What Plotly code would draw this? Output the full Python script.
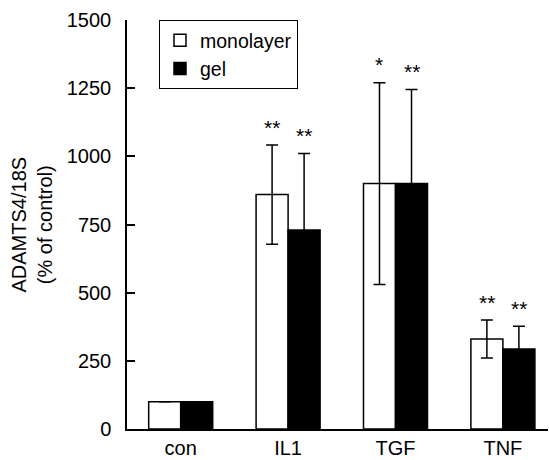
import plotly.graph_objects as go

categories = ["con", "IL1", "TGF", "TNF"]
monolayer = [100, 860, 900, 330]
monolayer_err = [0, 182, 370, 70]
gel = [100, 730, 900, 293]
gel_err = [0, 280, 345, 84]
mono_stars = ["", "**", "*", "**"]
gel_stars = ["", "**", "**", "**"]
y_ticks = [0, 250, 500, 750, 1000, 1250, 1500]

FONT = "Liberation Sans, Arial, Helvetica, sans-serif"

fig = go.Figure()
fig.add_trace(go.Bar(
    name="monolayer", x=categories, y=monolayer,
    marker=dict(color="white", line=dict(color="black", width=1.5)),
    error_y=dict(type="data", array=monolayer_err, color="black", thickness=1.5, width=6),
))
fig.add_trace(go.Bar(
    name="gel", x=categories, y=gel,
    marker=dict(color="black", line=dict(color="black", width=1.5)),
    error_y=dict(type="data", array=gel_err, color="black", thickness=1.5, width=6),
))

annotations = []
for i, c in enumerate(categories):
    for stars, vals, errs, off in ((mono_stars, monolayer, monolayer_err, -0.15),
                                   (gel_stars, gel, gel_err, 0.15)):
        if stars[i]:
            annotations.append(dict(
                x=i + off, y=vals[i] + errs[i] + 65, xref="x", yref="y",
                text=stars[i], showarrow=False, yanchor="middle",
                font=dict(size=21, color="black", family=FONT),
            ))

annotations.append(dict(
    x=-0.228, y=0.5, xref="paper", yref="paper",
    text="ADAMTS4/18S<br>(% of control)", textangle=-90, showarrow=False,
    font=dict(size=20, color="black", family=FONT),
    xanchor="center", yanchor="middle",
))

fig.update_layout(
    width=549, height=460,
    margin=dict(l=127, r=1, t=20, b=26),
    paper_bgcolor="white", plot_bgcolor="white",
    barmode="group", bargap=0.404, bargroupgap=0,
    font=dict(family=FONT, size=20, color="black"),
    showlegend=True,
    legend=dict(
        x=0.076, y=1.0, xanchor="left", yanchor="top",
        bordercolor="black", borderwidth=1, bgcolor="white",
        font=dict(size=19.5, family=FONT, color="black"),
    ),
    annotations=annotations,
)
fig.update_xaxes(
    type="category", range=[-0.5, 3.42],
    showline=True, linecolor="black", linewidth=1.5,
    ticks="", showgrid=False, zeroline=False,
    tickfont=dict(size=20, family=FONT, color="black"),
)
fig.update_yaxes(
    range=[0, 1500], tickvals=y_ticks,
    showline=True, linecolor="black", linewidth=1.5,
    ticks="inside", ticklen=8, tickwidth=1.5, tickcolor="black",
    ticklabelstandoff=10,
    showgrid=False, zeroline=False,
    tickfont=dict(size=20, family=FONT, color="black"),
)

fig.write_html("out.html")
